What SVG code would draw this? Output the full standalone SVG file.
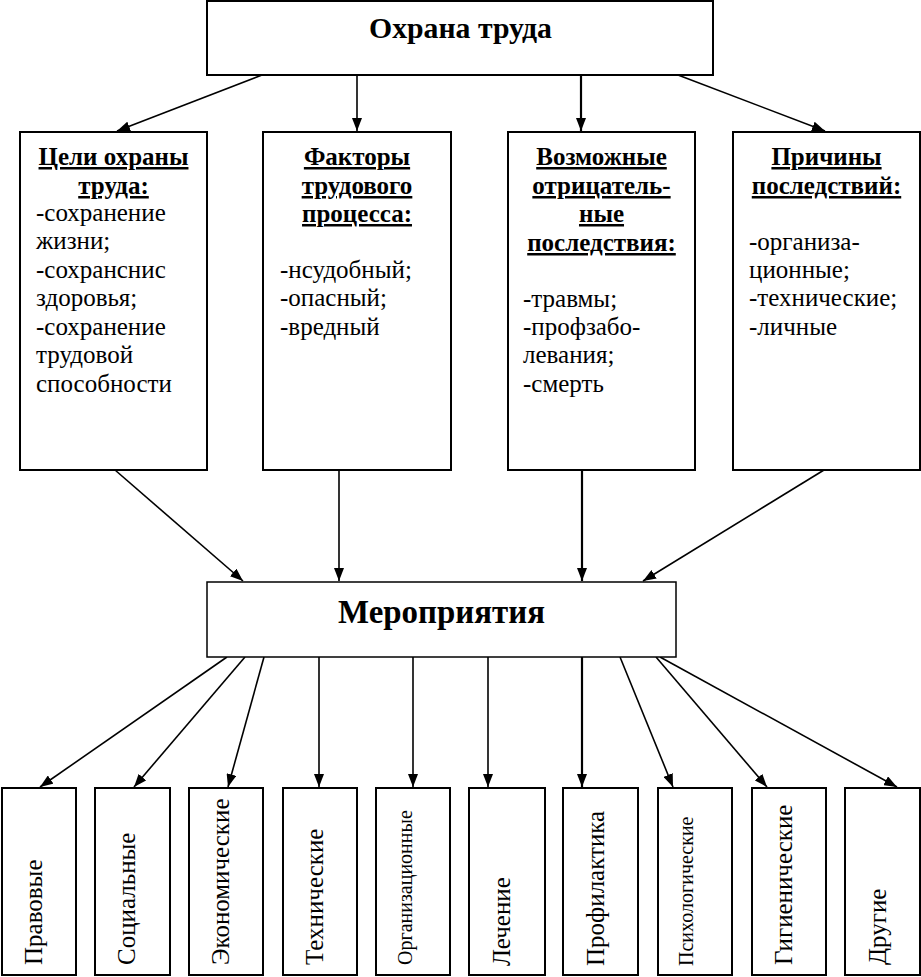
<svg xmlns="http://www.w3.org/2000/svg" width="921" height="977" viewBox="0 0 921 977">
<defs>
<marker id="ah" markerUnits="userSpaceOnUse" markerWidth="14" markerHeight="10" refX="13" refY="5" orient="auto">
<path d="M0,0 L13,5 L0,10 Z" fill="#000"/>
</marker>
<style>
.box{fill:#fff;stroke:#000;stroke-width:2}
.t{font-family:"Liberation Serif","Times New Roman",serif;fill:#000}
.b{font-size:25px}
.h{font-size:25px;font-weight:bold;text-decoration:underline;text-anchor:middle}
.v{font-size:25px}
.vs{font-size:20px}
.c line{stroke:#000;stroke-width:1.6;marker-end:url(#ah)}
</style>
</defs>
<rect width="921" height="977" fill="#fff"/>
<g class="c" id="connectors">
<line x1="262" y1="75" x2="117" y2="131"/>
<line x1="357" y1="75" x2="357" y2="131"/>
<line x1="581" y1="75" x2="581" y2="131" style="stroke-width:2.2"/>
<line x1="678" y1="75" x2="825" y2="131"/>
<line x1="115" y1="470" x2="243" y2="581"/>
<line x1="339" y1="470" x2="339" y2="581"/>
<line x1="582" y1="470" x2="582" y2="581" style="stroke-width:2.2"/>
<line x1="824" y1="470" x2="643" y2="581"/>
<line x1="227" y1="657" x2="40" y2="787"/>
<line x1="245" y1="657" x2="134" y2="787"/>
<line x1="264" y1="657" x2="228" y2="787"/>
<line x1="319" y1="657" x2="319" y2="787"/>
<line x1="413" y1="657" x2="413" y2="787"/>
<line x1="488" y1="657" x2="488" y2="787"/>
<line x1="582" y1="657" x2="582" y2="787" style="stroke-width:2.2"/>
<line x1="620" y1="657" x2="673" y2="787"/>
<line x1="656" y1="657" x2="767" y2="787"/>
<line x1="660" y1="657" x2="897" y2="787"/>
</g>
<g id="top">
<rect class="box" x="207" y="1" width="506" height="74"/>
<text class="t" x="369" y="38" font-size="29" font-weight="bold" textLength="183" lengthAdjust="spacingAndGlyphs">Охрана труда</text>
</g>
<g id="goals">
<rect class="box" x="20" y="132" width="187" height="338"/>
<text class="t h" x="113.5" y="165">Цели охраны</text>
<text class="t h" x="113.5" y="194">труда:</text>
<text class="t b" x="36" y="221">-сохранение</text>
<text class="t b" x="36" y="249">жизни;</text>
<text class="t b" x="36" y="278">-сохранснис</text>
<text class="t b" x="36" y="306">здоровья;</text>
<text class="t b" x="36" y="335">-сохранение</text>
<text class="t b" x="36" y="363">трудовой</text>
<text class="t b" x="36" y="392">способности</text>
</g>
<g id="factors">
<rect class="box" x="263" y="132" width="188" height="338"/>
<text class="t h" x="357" y="165">Факторы</text>
<text class="t h" x="357" y="194">трудового</text>
<text class="t h" x="357" y="222">процесса:</text>
<text class="t b" x="280" y="278">-нсудобный;</text>
<text class="t b" x="280" y="306">-опасный;</text>
<text class="t b" x="280" y="335">-вредный</text>
</g>
<g id="consequences">
<rect class="box" x="508" y="132" width="187" height="338"/>
<text class="t h" x="601.5" y="165">Возможные</text>
<text class="t h" x="601.5" y="194">отрицатель-</text>
<text class="t h" x="601.5" y="222">ные</text>
<text class="t h" x="601.5" y="251">последствия:</text>
<text class="t b" x="523" y="307">-травмы;</text>
<text class="t b" x="523" y="335">-профзабо-</text>
<text class="t b" x="523" y="363">левания;</text>
<text class="t b" x="523" y="392">-смерть</text>
</g>
<g id="causes">
<rect class="box" x="733" y="132" width="187" height="338"/>
<text class="t h" x="826.5" y="165">Причины</text>
<text class="t h" x="826.5" y="194">последствий:</text>
<text class="t b" x="749" y="250">-организа-</text>
<text class="t b" x="749" y="278">ционные;</text>
<text class="t b" x="749" y="306">-технические;</text>
<text class="t b" x="749" y="335">-личные</text>
</g>
<g id="measures">
<rect class="box" x="207" y="582" width="469" height="75" style="stroke-width:1.5"/>
<text class="t" x="338" y="623" font-size="33" font-weight="bold" textLength="207" lengthAdjust="spacingAndGlyphs">Мероприятия</text>
</g>
<g id="m1"><rect class="box" x="2" y="788" width="74" height="187"/><text class="t v" transform="translate(42,965) rotate(-90)">Правовые</text></g>
<g id="m2"><rect class="box" x="95" y="788" width="75" height="187"/><text class="t v" transform="translate(135,965) rotate(-90)">Социальные</text></g>
<g id="m3"><rect class="box" x="189" y="788" width="74" height="187"/><text class="t v" transform="translate(229,965) rotate(-90)">Экономические</text></g>
<g id="m4"><rect class="box" x="283" y="788" width="74" height="187"/><text class="t v" transform="translate(323,965) rotate(-90)">Технические</text></g>
<g id="m5"><rect class="box" x="376" y="788" width="74" height="187"/><text class="t vs" transform="translate(412,965) rotate(-90)">Организационные</text></g>
<g id="m6"><rect class="box" x="469" y="788" width="76" height="187"/><text class="t v" transform="translate(510,966) rotate(-90)">Лечение</text></g>
<g id="m7"><rect class="box" x="563" y="788" width="75" height="187"/><text class="t v" transform="translate(604,966) rotate(-90)">Профилактика</text></g>
<g id="m8"><rect class="box" x="658" y="788" width="74" height="187"/><text class="t vs" transform="translate(693,966) rotate(-90)">Психологические</text></g>
<g id="m9"><rect class="box" x="752" y="788" width="74" height="187"/><text class="t v" transform="translate(792,965) rotate(-90)">Гигиенические</text></g>
<g id="m10"><rect class="box" x="845" y="788" width="75" height="187"/><text class="t v" transform="translate(886,965) rotate(-90)">Другие</text></g>
</svg>
